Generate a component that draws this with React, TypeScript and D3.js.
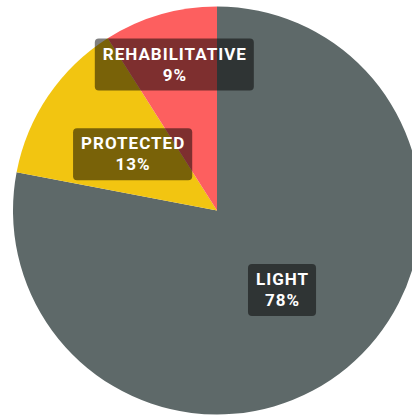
import { useRef, useEffect } from "react";
import { select, pie, arc, PieArcDatum } from "d3";

const categories = ["LIGHT", "PROTECTED", "REHABILITATIVE"];
const shares = [78, 13, 9];
const colors = ["#5e6969", "#f2c511", "#fd5f5f"];

type Slice = { name: string; value: number; color: string };

const width = 412;
const height = 415;

function App() {
  const svgRef = useRef<SVGSVGElement | null>(null);

  useEffect(() => {
    if (!svgRef.current) return;
    const svg = select(svgRef.current);
    svg.selectAll("*").remove();

    const cx = 217;
    const cy = 210.5;
    const radius = 204;

    const data: Slice[] = categories.map((name, i) => ({
      name,
      value: shares[i],
      color: colors[i],
    }));

    const arcs = pie<Slice>()
      .sort(null)
      .value((d) => d.value)(data);

    const arcGen = arc<PieArcDatum<Slice>>().innerRadius(0).outerRadius(radius);

    const g = svg.append("g").attr("transform", `translate(${cx},${cy})`);

    g.selectAll("path")
      .data(arcs)
      .join("path")
      .attr("d", arcGen)
      .attr("fill", (d) => d.data.color);

    // labels sit at the centroid; small slices get pushed outward
    const labelArc = (d: PieArcDatum<Slice>) => {
      const frac = (d.endAngle - d.startAngle) / (2 * Math.PI);
      const r = frac < 0.1 ? radius * 1.5 : radius;
      return arc<PieArcDatum<Slice>>().innerRadius(0).outerRadius(r).centroid(d);
    };

    const labels = g
      .selectAll("g.label")
      .data(arcs)
      .join("g")
      .attr("class", "label")
      .attr("transform", (d) => {
        const [x, y] = labelArc(d);
        return `translate(${x},${y + 1})`;
      });

    const rects = labels
      .append("rect")
      .attr("rx", 4)
      .attr("fill", "rgba(0,0,0,0.5)");

    const texts = labels
      .append("text")
      .attr("text-anchor", "middle")
      .attr("fill", "#ffffff")
      .style("font-family", "Roboto, sans-serif")
      .style("font-weight", 700)
      .style("font-size", "17px")
      .style("letter-spacing", "1px");

    texts
      .append("tspan")
      .attr("x", 0.5)
      .attr("y", -5)
      .text((d) => d.data.name);
    texts
      .append("tspan")
      .attr("x", 0.5)
      .attr("y", 16)
      .text((d) => `${d.data.value}%`);

    texts.each(function (_, i) {
      const b = (this as SVGTextElement).getBBox();
      select(rects.nodes()[i])
        .attr("x", b.x - 8)
        .attr("y", -26)
        .attr("width", b.width + 15)
        .attr("height", 52);
    });
  }, []);

  return (
    <div style={{ position: "absolute", left: 0, top: 0 }}>
      <svg
        ref={svgRef}
        width={width}
        height={height}
        viewBox={`0 0 ${width} ${height}`}
        style={{ display: "block", background: "#ffffff" }}
      ></svg>
    </div>
  );
}

export default App;
